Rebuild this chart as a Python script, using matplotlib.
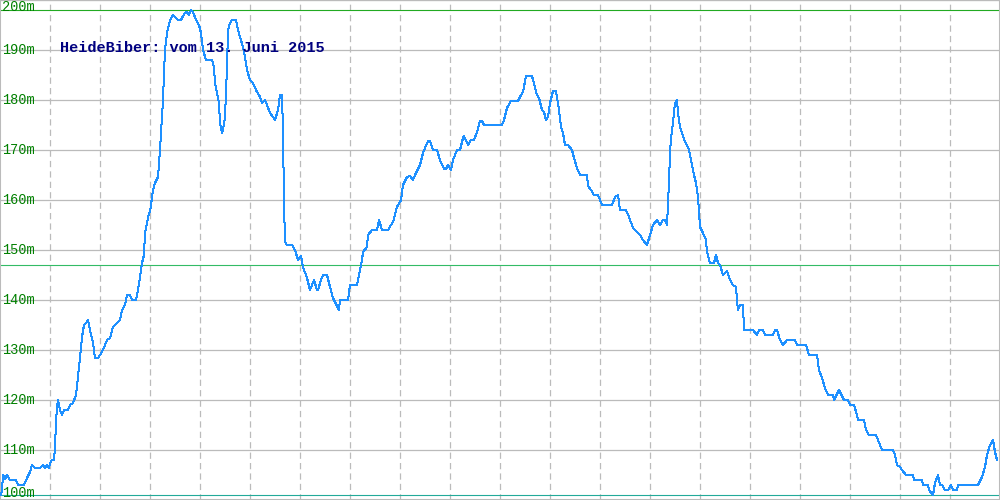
import matplotlib
matplotlib.use("Agg")
import matplotlib.pyplot as plt

# track position (0..1000) and altitude in m
dist = [1, 2, 3, 5, 7, 10, 16, 18, 24, 27, 30, 32, 35, 40, 43, 45, 47, 49, 50, 52, 54, 55, 56, 57, 58,
        60, 62, 64, 68, 70, 73, 76, 78, 80, 82, 84, 87, 88, 90, 93, 95, 98, 100, 103, 107, 110, 113, 117,
        120, 122, 125, 127, 130, 132, 136, 138, 140, 142, 144, 145, 147, 149,
        150, 153, 155, 158, 160, 162, 163, 164, 165, 167, 170, 173, 175, 178, 181, 183, 185, 187, 189,
        191, 193, 196, 199, 201, 203, 206, 212, 214, 215, 217, 219, 220, 222, 223, 225, 226, 227, 228,
        230, 232, 236, 238, 240, 243, 245, 247, 250, 253, 256, 260, 262, 265, 267, 270, 273, 275, 278,
        280, 282, 283, 284, 285, 287, 292, 295, 298, 301, 303, 307, 310, 314, 317, 318, 321, 323, 327,
        330, 333, 339, 340, 348, 350, 357, 359, 362, 363, 367, 368, 372, 377, 379, 382, 388, 391, 393,
        397, 401, 403, 407, 410, 413, 415, 420, 423, 425, 428, 430, 433, 437, 440, 444, 446, 448, 451,
        453, 457, 460, 463, 464, 468, 471, 474, 477, 480, 482, 484, 502, 504, 507, 511, 518, 521, 523,
        526, 532, 533, 537, 539, 542, 544, 546, 548, 550, 553, 556, 559, 561, 563, 565, 568, 572, 574,
        577, 580, 587, 588, 591, 594, 598, 602, 612, 615, 618, 620, 626, 629, 633, 637, 640, 643, 647,
        650, 653, 657, 660, 663, 665, 667, 668, 669, 670, 671, 673, 674, 675, 677, 678, 680, 682, 685,
        687, 689, 692, 694, 696, 698, 700, 703, 706, 707, 710, 714, 716, 718, 720, 723, 727, 730, 733,
        736, 737, 738, 740, 743, 744, 753, 757, 759, 763, 765, 773, 775, 777, 780, 783, 787, 795, 797,
        806, 809, 817, 819, 822, 825, 828, 833, 834, 839, 844, 848, 850, 854, 857, 858, 864, 866, 869,
        876, 878, 882, 893, 895, 897, 900, 902, 906, 913, 914, 922, 923, 928, 929, 933, 935, 938, 940,
        942, 945, 948, 951, 953, 957, 958, 978, 982, 985, 987, 990, 993, 995, 997]
elev = [101, 102, 105, 104.2, 105, 104, 104, 103, 103, 104.4, 105.6, 107, 106.4, 106.4, 107, 106.4, 107,
        106.4, 107.4, 108, 108, 110.6, 115.6, 118.6, 120,
        118, 117, 118, 118, 119, 119.4, 121, 124.6, 128.4, 132.6, 135, 135.6, 136, 134, 131.4, 128.4,
        128.4, 129, 130, 132, 132.4, 134.6, 135.4,
        136, 138, 139, 141, 141, 140, 140, 142, 144.6, 147.4, 149, 153.4, 155.4, 157.4,
        157.6, 162, 163.4, 164.6, 170, 176.6, 180, 185.4, 190, 193.4, 196, 197, 196.6, 196, 196, 196.8,
        197.4, 197.6, 197,
        198, 197.6, 196, 195, 193.4, 190, 188, 188, 186.6, 183.4, 181.4, 179.4, 175.4, 173.4, 174, 176.6,
        181.4, 186.6, 194,
        195.4, 196, 196, 194, 192.6, 190.6, 188.6, 186, 184, 183.4, 182, 180.6, 179.4, 180, 179, 177.4,
        176.6, 176, 178,
        181, 181, 173.6, 159.6, 151.6, 151, 151, 150, 148, 148.8, 146.6, 144.4, 142, 144, 142, 142, 144,
        145, 145,
        142.6, 140.4, 138, 140, 140, 143, 143, 145, 148, 149.6, 150.6, 153, 154, 154, 156, 154, 154, 155,
        155.6,
        158.6, 160, 163, 164.6, 164.8, 164, 165, 167, 169.4, 170.4, 171.8, 171.8, 170, 170, 168, 166.2,
        166.2, 167, 166,
        168, 170, 170, 172.4, 172.8, 171, 172, 172, 173.6, 175.8, 175.8, 175, 175, 176, 178.4, 179.8,
        179.8, 181, 181.6,
        184.8, 184.8, 184, 181, 180.4, 178, 177.6, 176, 176.6, 179.4, 181.8, 181.8, 178, 174.6, 173.4,
        171, 171, 170, 168.4,
        166.4, 165, 165, 162.8, 162, 161, 161, 159, 159, 160.6, 161, 158, 158, 156.6, 154.4, 153.6, 153,
        152, 151,
        153, 155, 156, 155, 156, 156, 155, 159.4, 163.6, 169.4, 172.4, 175.4, 177.6, 179.4, 180, 177.4,
        174.6, 173.4, 171.6,
        171, 170, 167, 165, 163.4, 160.6, 154.6, 153.4, 152, 149.6, 147.4, 147.4, 149, 147.4, 147, 145,
        145.8, 144, 143,
        142.6, 140, 138, 139, 139, 134, 134, 133, 134, 134, 133, 133, 134, 134, 132, 131, 132, 132, 131,
        131, 129, 129, 126, 124.4, 122.4, 121, 121, 120, 122, 120, 120, 119, 119, 117, 116, 116, 114, 113,
        113, 112, 110, 110, 109, 107, 106.6, 106, 105, 105, 104, 104, 103, 103, 102, 101, 103.4, 105, 103,
        103, 102, 102, 103, 102, 102, 103, 103, 104.6, 106.6, 109, 111, 112, 109.6, 108]

avg_elev = 147
title = "HeideBiber: vom 13. Juni 2015"
y_ticks = list(range(100, 201, 10))
x_grid = list(range(50, 1000, 50))

plt.rcParams['lines.scale_dashes'] = False

fig = plt.figure(figsize=(10, 5), dpi=100)
ax = fig.add_axes([0, 0, 1, 1])
ax.set_xlim(0, 1000)
ax.set_ylim(100, 200)
ax.set_xticks([])
ax.set_yticks([])
for s in ax.spines.values():
    s.set_color('#bbbbbb')
    s.set_linewidth(1.5)

# grid
for v in y_ticks:
    ax.axhline(v, color='#bbbbbb', lw=0.9, zorder=1)
for v in x_grid:
    ax.axvline(v, color='#bbbbbb', lw=0.9, ls=(0, (4.5, 3)), zorder=1)

# max / mean / min lines
ax.axhline(max(elev), color='#22aa22', lw=0.8, zorder=2)
ax.axhline(avg_elev, color='#33bb66', lw=0.8, zorder=2)
ax.axhline(min(elev), color='#22aa99', lw=0.8, zorder=2)

ax.plot(dist, elev, color='#1e90ff', lw=0.72, antialiased=False, zorder=3)

for v in y_ticks:
    va = 'center'
    if v == 200:
        va = 'top'
    if v == 100:
        va = 'bottom'
    ax.text(2, v, "%dm" % v, color='#008000', fontsize=9.8, family='Liberation Mono',
            va=va, ha='left', zorder=4)

ax.text(60, 190.4, title, color='#000080', fontsize=11, family='Liberation Mono',
        weight='bold', va='center', ha='left', zorder=4)

fig.savefig("out.png")
